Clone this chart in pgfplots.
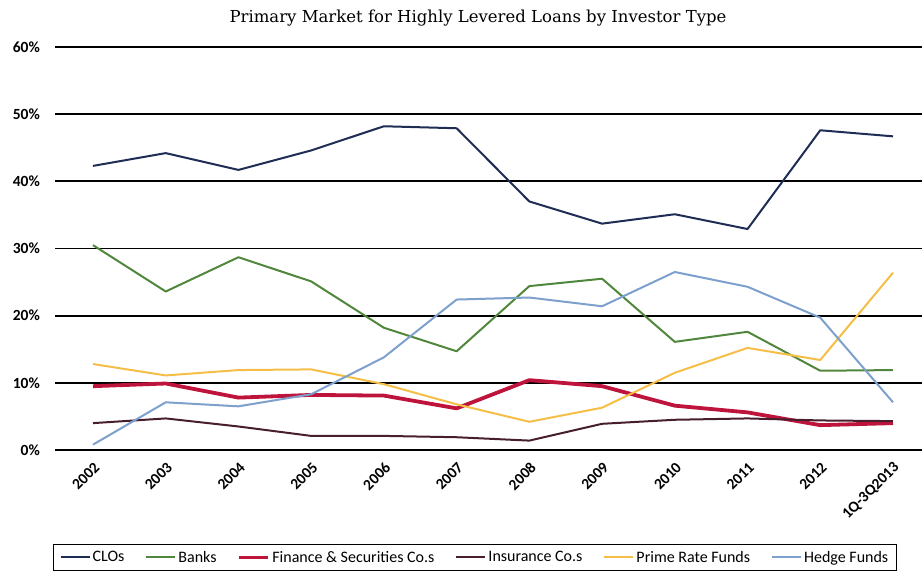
\documentclass[border=0pt]{standalone}
\usepackage{pgfplots}
\pgfplotsset{compat=1.18}
\usepackage{fontspec}
\setmainfont{Carlito}
\newfontfamily\titlefont{DejaVu Serif}

\definecolor{cloC}{RGB}{31,45,84}
\definecolor{bankC}{RGB}{80,135,60}
\definecolor{finC}{RGB}{190,20,60}
\definecolor{insC}{RGB}{70,30,45}
\definecolor{primeC}{RGB}{245,190,70}
\definecolor{hedgeC}{RGB}{125,160,205}

\begin{document}
\begin{tikzpicture}
\useasboundingbox (-55bp,-125bp) rectangle (867bp,450bp);
\begin{axis}[
    at={(0,0)}, anchor=south west,
    scale only axis, width=867bp, height=403bp,
    xmin=-0.5225, xmax=11.399, ymin=0, ymax=60,
    axis line style={draw=none},
    major tick length=0pt,
    ymajorgrids,
    grid style={black, line width=1.8bp},
    xtick={0,...,11},
    xticklabels={2002,2003,2004,2005,2006,2007,2008,2009,2010,2011,2012,1Q-3Q2013},
    ytick={0,10,20,30,40,50,60},
    yticklabels={0\%,10\%,20\%,30\%,40\%,50\%,60\%},
    tick label style={font=\bfseries\fontsize{15.5bp}{17bp}\selectfont},
    xticklabel style={yshift=-15bp, xshift=4bp, rotate=45, anchor=east, inner sep=0pt},
    yticklabel style={anchor=east, inner sep=0pt, xshift=-15bp},
    clip=false,
    legend columns=6,
    legend style={at={(rel axis cs:0.4844,-0.2667)}, anchor=center,
        draw=black, line width=1.2bp, inner xsep=6bp, inner ysep=5bp,
        font=\fontsize{16bp}{18bp}\selectfont,
        /tikz/every even column/.append style={column sep=19bp}},
    legend cell align=left,
    legend image code/.code={\draw[#1] (0bp,0bp) -- (29bp,0bp);},
]

% CLOs
\addplot[cloC, line width=2bp, line join=round] coordinates {
  (0,42.3) (1,44.2) (2,41.7) (3,44.6) (4,48.2) (5,47.9)
  (6,37.0) (7,33.7) (8,35.1) (9,32.9) (10,47.6) (11,46.7)
};

% Banks
\addplot[bankC, line width=2bp, line join=round] coordinates {
  (0,30.5) (1,23.6) (2,28.7) (3,25.1) (4,18.2) (5,14.7)
  (6,24.4) (7,25.5) (8,16.1) (9,17.6) (10,11.8) (11,11.9)
};

% Finance & Securities
\addplot[finC, line width=3.8bp, line join=round] coordinates {
  (0,9.5) (1,9.9) (2,7.8) (3,8.2) (4,8.1) (5,6.2)
  (6,10.4) (7,9.5) (8,6.6) (9,5.6) (10,3.7) (11,4.0)
};

% Insurance
\addplot[insC, line width=2bp, line join=round] coordinates {
  (0,4.0) (1,4.7) (2,3.5) (3,2.1) (4,2.1) (5,1.9)
  (6,1.4) (7,3.9) (8,4.5) (9,4.7) (10,4.4) (11,4.3)
};

% Prime Rate Funds
\addplot[primeC, line width=2bp, line join=round] coordinates {
  (0,12.8) (1,11.1) (2,11.9) (3,12.0) (4,9.8) (5,6.8)
  (6,4.2) (7,6.3) (8,11.5) (9,15.2) (10,13.4) (11,26.4)
};

% Hedge Funds
\addplot[hedgeC, line width=2bp, line join=round] coordinates {
  (0,0.8) (1,7.1) (2,6.5) (3,8.3) (4,13.8) (5,22.4)
  (6,22.7) (7,21.4) (8,26.5) (9,24.3) (10,19.7) (11,7.1)
};

\legend{CLOs, Banks, Finance \& Securities Co.s, Insurance Co.s, Prime Rate Funds, Hedge Funds}
\end{axis}
\node[font=\titlefont\fontsize{16.5bp}{19bp}\selectfont] at (423bp,432bp)
  {Primary Market for Highly Levered Loans by Investor Type};
\end{tikzpicture}
\end{document}
